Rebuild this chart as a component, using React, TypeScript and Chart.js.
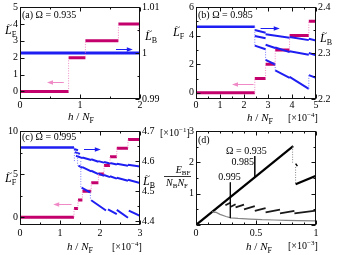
import { useEffect, useRef } from 'react';
import { Chart, registerables } from 'chart.js';

Chart.register(...registerables);

const W = 337;
const H = 255;
const SERIF = '"Liberation Serif", "Times New Roman", Times, serif';
const MAG = '#c4006c';
const PINK = '#f08ac6';
const BLUE = '#1e1ef2';
const LBLUE = '#7a7aff';
const GRAY = '#858585';

// ---------- (a) Omega = 0.935 ----------
const aXTicks = [0, 1, 2];
const aXMinor = [0.5, 1.5];
const aYLTicks = [0, 1, 2, 3, 4, 5];
const aYRTicks = [0.99, 1, 1.01];
const aYRMinor = [0.995, 1.005];
const aLFLevels = [0, 2, 3, 4];
const aLFEdges = [0, 0.81, 1.09, 1.64, 2.0];
const aJumpH = [0.81, 1.09, 1.64, 1.98];
const aJumpFrom = [0, 2, 3, 3.55];
const aJumpTo = [2, 3, 4, 4];
const aLBh = [0, 2];
const aLB = [1, 1];
const aArrowF = [0.73, 0.45, 0.56];
const aArrowB = [1.6, 1.88, 1.0008];

// ---------- (b) Omega = 0.985 ----------
const bXTicks = [0, 1, 2, 3, 4, 5];
const bXMinor = [0.5, 1.5, 2.5, 3.5, 4.5];
const bYLTicks = [0, 2, 4, 6];
const bYLMinor = [1, 3, 5];
const bYRTicks = [2.2, 2.3, 2.4];
const bYRMinor = [2.25, 2.35];
const bLFLevels = [0, 1, 2, 3, 4, 5];
const bLFEdges = [0, 2.45, 2.9, 3.3, 3.9, 4.7, 5.0];
const bJumpH = [2.45, 2.9, 3.3, 3.9, 4.7];
const bJumpFrom = [0, 1, 2, 3, 4];
const bJumpTo = [1, 2, 3, 4, 5];
const bLBConstH = [0, 2.45];
const bLBConst = [2.357, 2.357];
const bLBSegs = [
  [2.45, 2.35, 2.9, 2.344],
  [2.45, 2.337, 2.9, 2.332],
  [2.9, 2.341, 3.9, 2.333],
  [3.9, 2.335, 4.7, 2.328],
  [4.7, 2.331, 5.0, 2.327],
  [2.45, 2.316, 2.9, 2.308],
  [2.9, 2.318, 3.3, 2.311],
  [3.3, 2.312, 3.9, 2.302],
  [3.9, 2.304, 4.7, 2.296],
  [4.7, 2.3, 5.0, 2.295],
  [2.9, 2.285, 3.3, 2.275],
  [3.3, 2.262, 3.9, 2.246],
  [3.9, 2.248, 4.7, 2.222],
  [4.7, 2.252, 5.0, 2.246],
];
const bLBJumpH = [2.45, 2.9, 3.3, 4.7];
const bLBJumpFrom = [2.357, 2.308, 2.275, 2.222];
const bLBJumpTo = [2.316, 2.285, 2.262, 2.252];
const bArrowF = [2.4, 1.5, 0.6];
const bArrowB = [2.69, 3.49, 2.354];

// ---------- (c) Omega = 0.995 ----------
const cXTicks = [0, 1, 2, 3];
const cXMinor = [0.5, 1.5, 2.5];
const cYLTicks = [0, 5, 10];
const cYLMinor = [2.5, 7.5];
const cYRTicks = [4.4, 4.5, 4.6, 4.7];
const cYRMinor = [4.45, 4.55, 4.65];
const cLFLevels = [0, 1, 2, 3, 4, 5, 6, 7, 8, 9];
const cLFEdges = [0, 1.35, 1.45, 1.56, 1.78, 1.96, 2.1, 2.25, 2.42, 2.7, 3.0];
const cJumpH = [1.35, 1.45, 1.56, 1.78, 1.96, 2.1, 2.25, 2.42, 2.7];
const cJumpFrom = [0, 1, 2, 3, 4, 5, 6, 7, 8];
const cJumpTo = [1, 2, 3, 4, 5, 6, 7, 8, 9];
const cLBConstH = [0, 1.35];
const cLBConst = [4.645, 4.645];
const cLBSegs = [
  [1.35, 4.64, 1.45, 4.636],
  [1.37, 4.63, 1.5, 4.624],
  [1.4, 4.618, 1.56, 4.61],
  [1.56, 4.612, 1.78, 4.604],
  [1.78, 4.606, 1.96, 4.598],
  [1.96, 4.6, 2.1, 4.595],
  [2.1, 4.597, 2.25, 4.592],
  [2.25, 4.594, 2.42, 4.589],
  [2.42, 4.591, 2.7, 4.585],
  [2.7, 4.588, 3.0, 4.582],
  [1.46, 4.585, 1.56, 4.578],
  [1.56, 4.58, 1.78, 4.566],
  [1.78, 4.568, 1.96, 4.557],
  [1.96, 4.559, 2.1, 4.551],
  [2.1, 4.554, 2.25, 4.547],
  [2.25, 4.55, 2.42, 4.542],
  [2.42, 4.545, 2.7, 4.535],
  [2.7, 4.538, 3.0, 4.527],
  [1.54, 4.512, 1.75, 4.496],
  [1.78, 4.47, 2.15, 4.436],
  [2.2, 4.44, 2.42, 4.424],
  [2.42, 4.438, 2.7, 4.412],
  [2.72, 4.436, 3.0, 4.418],
];
const cLBJumpH = [1.36, 1.44, 1.52, 1.76];
const cLBJumpFrom = [4.645, 4.628, 4.6, 4.496];
const cLBJumpTo = [4.6, 4.585, 4.512, 4.47];
const cArrowF = [1.29, 0.83, 1.55];
const cArrowB = [1.6, 2.02, 4.64];

// ---------- (d) E_BF ----------
const dXTicks = [0, 0.5, 1];
const dXMinor = [0.1, 0.2, 0.3, 0.4, 0.6, 0.7, 0.8, 0.9];
const dYTicks = [1, 2, 3];
const dYMarks = [0, 1, 2, 3];
const dYMinor = [0.5, 1.5, 2.5];
const d935H = [0, 0.81];
const d935 = [0, 2.52];
const d935bH = [0.83, 1.0];
const d935b = [1.3, 1.57];
const d935Drop = [
  [0.805, 2.5, 0.805, 1.95],
  [0.83, 1.85, 0.83, 1.32],
];
const d935Kink = [[0.83, 1.96, 0.845, 1.88]];
const d985Segs = [
  [0.245, 0.63, 0.29, 0.72],
  [0.29, 0.58, 0.33, 0.66],
  [0.33, 0.56, 0.4, 0.65],
  [0.4, 0.5, 0.49, 0.6],
  [0.49, 0.45, 0.58, 0.54],
  [0.58, 0.4, 0.7, 0.49],
  [0.7, 0.37, 0.82, 0.45],
  [0.82, 0.37, 1.0, 0.46],
];
const d995H = [0.135, 0.15, 0.165, 0.2, 0.25, 0.29, 0.35, 0.45, 0.55, 0.65, 0.75, 0.85, 1.0];
const d995 = [0.43, 0.4, 0.41, 0.34, 0.27, 0.23, 0.21, 0.19, 0.17, 0.16, 0.15, 0.14, 0.13];
const dLeaders = [
  [0.49, 2.2, 0.49, 1.53],
  [0.286, 1.36, 0.286, 0.22],
];
const dLabelText = ['Ω = 0.935', '0.985', '0.995'];
const dLabelH = [0.42, 0.39, 0.28];
const dLabelV = [2.28, 1.93, 1.44];

// ---------- helpers ----------
type Seg = number[];
type Pt = { x: number; y: number | null };

function segPoints(segs: Seg[]): Pt[] {
  const out: Pt[] = [];
  segs.forEach(([x1, y1, x2, y2]) => {
    out.push({ x: x1, y: y1 }, { x: x2, y: y2 }, { x: x2, y: null });
  });
  return out;
}
function steps(levels: number[], edges: number[]): Seg[] {
  return levels.map((v, i) => [edges[i], v, edges[i + 1], v]);
}
function jumps(hs: number[], from: number[], to: number[]): Seg[] {
  return hs.map((h, i) => [h, from[i], h, to[i]]);
}
function pairs(xs: number[], ys: number[]): Pt[] {
  return xs.map((x, i) => ({ x, y: ys[i] }));
}
function ds(data: Pt[], color: string, width: number, axis = 'y', dash: number[] = []) {
  return {
    data,
    borderColor: color,
    backgroundColor: color,
    borderWidth: width,
    yAxisID: axis,
    pointRadius: 0,
    pointHoverRadius: 0,
    fill: false,
    tension: 0,
    borderDash: dash,
    spanGaps: false,
  };
}

type Part = [string, number, boolean, number];
function rich(ctx: CanvasRenderingContext2D, parts: Part[], x: number, base: number, align: 'left' | 'center' = 'left') {
  ctx.textBaseline = 'alphabetic';
  ctx.textAlign = 'left';
  const widths = parts.map(([s, size, it]) => {
    ctx.font = `${it ? 'italic ' : ''}${size}px ${SERIF}`;
    return ctx.measureText(s).width;
  });
  const total = widths.reduce((a, b) => a + b, 0);
  let cx = align === 'center' ? x - total / 2 : x;
  parts.forEach(([s, size, it, dy], i) => {
    ctx.font = `${it ? 'italic ' : ''}${size}px ${SERIF}`;
    ctx.fillText(s, cx, base + dy);
    cx += widths[i];
  });
  return total;
}
function Ltilde(ctx: CanvasRenderingContext2D, x: number, base: number, sub: string) {
  rich(ctx, [['L', 12, true, 0], [sub, 8, false, 2.5]], x, base);
  rich(ctx, [['~', 9, false, 0]], x + 2.2, base - 6.5);
}
function hOverN(ctx: CanvasRenderingContext2D, cx: number, base: number) {
  rich(ctx, [['h', 11, true, 0], [' / ', 11, false, 0], ['N', 11, true, 0], ['F', 8, false, 2.5]], cx, base, 'center');
}
function mult(ctx: CanvasRenderingContext2D, x: number, base: number, exp: string) {
  rich(ctx, [['[×10', 10, false, 0], [exp, 7, false, -4.5], [']', 10, false, 0]], x, base);
}
function arrowH(ctx: CanvasRenderingContext2D, sx: any, sy: any, spec: number[], color: string) {
  const x1 = sx.getPixelForValue(spec[0]);
  const x2 = sx.getPixelForValue(spec[1]);
  const y = Math.round(sy.getPixelForValue(spec[2])) + 0.5;
  const dir = Math.sign(x2 - x1);
  ctx.strokeStyle = color;
  ctx.fillStyle = color;
  ctx.lineWidth = 1;
  ctx.beginPath();
  ctx.moveTo(x1, y);
  ctx.lineTo(x2 - dir * 3, y);
  ctx.stroke();
  ctx.beginPath();
  ctx.moveTo(x2, y);
  ctx.lineTo(x2 - dir * 6, y - 2.3);
  ctx.lineTo(x2 - dir * 6, y + 2.3);
  ctx.closePath();
  ctx.fill();
}

type Ax = { min: number; max: number; ticks: number[]; major?: number[]; minor?: number[] };
type Spec = {
  area: [number, number, number, number];
  x: Ax;
  yl: Ax;
  yr?: Ax;
  xPad: number;
  datasets: any[];
  draw: (ctx: CanvasRenderingContext2D, sc: any) => void;
};

function decorate(chart: any, p: Spec) {
  const ctx: CanvasRenderingContext2D = chart.ctx;
  const a = chart.chartArea;
  const sx = chart.scales.x;
  const sy = chart.scales.y;
  const sy2 = chart.scales.y2;
  ctx.save();
  const L = Math.round(a.left) + 0.5;
  const R = Math.round(a.right) - 0.5;
  const T = Math.round(a.top) + 0.5;
  const B = Math.round(a.bottom) - 0.5;
  ctx.strokeStyle = '#111';
  ctx.lineWidth = 1;
  ctx.strokeRect(L, T, R - L, B - T);
  ctx.beginPath();
  const xt = (v: number, len: number) => {
    const px = Math.round(sx.getPixelForValue(v)) + 0.5;
    ctx.moveTo(px, B);
    ctx.lineTo(px, B - len);
    ctx.moveTo(px, T);
    ctx.lineTo(px, T + len);
  };
  const ylt = (v: number, len: number, mirror: boolean) => {
    const py = Math.round(sy.getPixelForValue(v)) + 0.5;
    ctx.moveTo(L, py);
    ctx.lineTo(L + len, py);
    if (mirror) {
      ctx.moveTo(R, py);
      ctx.lineTo(R - len, py);
    }
  };
  const yrt = (v: number, len: number) => {
    const py = Math.round(sy2.getPixelForValue(v)) + 0.5;
    ctx.moveTo(R, py);
    ctx.lineTo(R - len, py);
  };
  (p.x.major ?? p.x.ticks).forEach((v) => xt(v, 4));
  (p.x.minor ?? []).forEach((v) => xt(v, 2));
  (p.yl.major ?? p.yl.ticks).forEach((v) => ylt(v, 4, !p.yr));
  (p.yl.minor ?? []).forEach((v) => ylt(v, 2, !p.yr));
  if (p.yr) {
    (p.yr.major ?? p.yr.ticks).forEach((v) => yrt(v, 4));
    (p.yr.minor ?? []).forEach((v) => yrt(v, 2));
  }
  ctx.stroke();
  ctx.fillStyle = '#000';
  p.draw(ctx, chart.scales);
  ctx.restore();
}

function makeChart(canvas: HTMLCanvasElement, p: Spec) {
  const [l, t, r, b] = p.area;
  const axis = (ax: Ax, pos: string, fit: (s: any) => void, pad: number) => ({
    type: 'linear',
    position: pos,
    min: ax.min,
    max: ax.max,
    afterBuildTicks: (s: any) => {
      s.ticks = ax.ticks.map((v) => ({ value: v }));
    },
    afterFit: fit,
    ticks: {
      autoSkip: false,
      maxRotation: 0,
      minRotation: 0,
      padding: pad,
      color: '#000',
      font: { family: SERIF, size: 10, lineHeight: 1 },
      callback: (_v: any, i: number) => String(ax.ticks[i]),
    },
    grid: { display: false, drawTicks: false },
    border: { display: false },
  });
  const scales: any = {
    x: axis(p.x, 'bottom', (s) => { s.height = H - b; }, p.xPad),
    y: axis(p.yl, 'left', (s) => { s.width = l; }, 2),
  };
  if (p.yr) scales.y2 = axis(p.yr, 'right', (s) => { s.width = W - r; }, 2);
  return new Chart(canvas, {
    type: 'line',
    data: { datasets: p.datasets },
    options: {
      animation: false,
      responsive: false,
      maintainAspectRatio: false,
      events: [],
      layout: { padding: { left: 0, top: t, right: p.yr ? 0 : W - r, bottom: 0 } },
      plugins: { legend: { display: false }, tooltip: { enabled: false } },
      scales,
    } as any,
    plugins: [{ id: 'decor', afterDraw: (chart: any) => decorate(chart, p) }],
  });
}

const specs: Spec[] = [
  {
    area: [20, 5, 140, 99],
    x: { min: 0, max: 2, ticks: aXTicks, minor: aXMinor },
    yl: { min: -0.45, max: 5, ticks: aYLTicks },
    yr: { min: 0.99, max: 1.01, ticks: aYRTicks, minor: aYRMinor },
    xPad: 1,
    datasets: [
      ds(segPoints(jumps(aJumpH, aJumpFrom, aJumpTo)), PINK, 1, 'y', [1, 1.5]),
      ds(pairs(aLBh, aLB), BLUE, 3, 'y2'),
      ds(segPoints(steps(aLFLevels, aLFEdges)), MAG, 3),
    ],
    draw: (ctx, sc) => {
      arrowH(ctx, sc.x, sc.y, aArrowF, PINK);
      arrowH(ctx, sc.x, sc.y2, aArrowB, BLUE);
      ctx.fillStyle = '#000';
      rich(ctx, [['(a) Ω = 0.935', 10, false, 0]], 22, 18);
      Ltilde(ctx, 5, 34, 'F');
      Ltilde(ctx, 145, 40, 'B');
      hOverN(ctx, 81, 120);
    },
  },
  {
    area: [196, 5, 316, 99],
    x: { min: 0, max: 5, ticks: bXTicks, minor: bXMinor },
    yl: { min: -0.43, max: 6, ticks: bYLTicks, minor: bYLMinor },
    yr: { min: 2.2, max: 2.4, ticks: bYRTicks, minor: bYRMinor },
    xPad: 1,
    datasets: [
      ds(segPoints(jumps(bJumpH, bJumpFrom, bJumpTo)), PINK, 1, 'y', [1, 1.5]),
      ds(segPoints(jumps(bLBJumpH, bLBJumpFrom, bLBJumpTo)), LBLUE, 1, 'y2', [1, 1.5]),
      ds(pairs(bLBConstH, bLBConst), BLUE, 2.5, 'y2'),
      ds(segPoints(bLBSegs), BLUE, 2, 'y2'),
      ds(segPoints(steps(bLFLevels, bLFEdges)), MAG, 3),
    ],
    draw: (ctx, sc) => {
      arrowH(ctx, sc.x, sc.y, bArrowF, PINK);
      arrowH(ctx, sc.x, sc.y2, bArrowB, BLUE);
      ctx.fillStyle = '#000';
      rich(ctx, [['(b) Ω = 0.985', 10, false, 0]], 198, 18);
      Ltilde(ctx, 173, 36, 'F');
      Ltilde(ctx, 320, 42, 'B');
      hOverN(ctx, 260, 121);
      mult(ctx, 288, 121, '−4');
    },
  },
  {
    area: [20, 131, 140, 225],
    x: { min: 0, max: 3, ticks: cXTicks, minor: cXMinor },
    yl: { min: -0.9, max: 10, ticks: cYLTicks, minor: cYLMinor },
    yr: { min: 4.388, max: 4.7, ticks: cYRTicks, minor: cYRMinor },
    xPad: 3.3,
    datasets: [
      ds(segPoints(jumps(cJumpH, cJumpFrom, cJumpTo)), PINK, 1, 'y', [1, 1.5]),
      ds(segPoints(jumps(cLBJumpH, cLBJumpFrom, cLBJumpTo)), LBLUE, 1, 'y2', [1, 1.5]),
      ds(pairs(cLBConstH, cLBConst), BLUE, 2.5, 'y2'),
      ds(segPoints(cLBSegs), BLUE, 2, 'y2'),
      ds(segPoints(steps(cLFLevels, cLFEdges)), MAG, 3),
    ],
    draw: (ctx, sc) => {
      arrowH(ctx, sc.x, sc.y, cArrowF, PINK);
      arrowH(ctx, sc.x, sc.y2, cArrowB, BLUE);
      ctx.fillStyle = '#000';
      rich(ctx, [['(c) Ω = 0.995', 10, false, 0]], 22, 140);
      Ltilde(ctx, 5, 182, 'F');
      Ltilde(ctx, 143, 185, 'B');
      hOverN(ctx, 80, 250);
      mult(ctx, 112, 250, '−4');
    },
  },
  {
    area: [196, 131, 316, 225],
    x: { min: 0, max: 1, ticks: dXTicks, minor: dXMinor },
    yl: { min: 0, max: 3, ticks: dYTicks, major: dYMarks, minor: dYMinor },
    xPad: 3.3,
    datasets: [
      ds(segPoints(d935Drop), GRAY, 1, 'y', [1, 1.5]),
      ds(segPoints(dLeaders), '#000', 0.8),
      ds(pairs(d995H, d995), GRAY, 1.2),
      ds(segPoints(d985Segs), '#1a1a1a', 1.8),
      ds(segPoints(d935Kink), '#000', 1.5),
      ds(pairs(d935H, d935), '#000', 2.2),
      ds(pairs(d935bH, d935b), '#000', 2.2),
    ],
    draw: (ctx, sc) => {
      ctx.fillStyle = '#000';
      dLabelText.forEach((s, i) => {
        const px = sc.x.getPixelForValue(dLabelH[i]);
        const py = sc.y.getPixelForValue(dLabelV[i]);
        rich(ctx, [[s, 10, false, 0]], px, py, 'center');
      });
      rich(ctx, [['(d)', 10, false, 0]], 198, 143);
      mult(ctx, 160, 136, '−1');
      rich(ctx, [['E', 10, true, 0], ['BF', 7, false, 2]], 183, 173, 'center');
      ctx.strokeStyle = '#000';
      ctx.lineWidth = 0.8;
      ctx.beginPath();
      ctx.moveTo(164, 176.5);
      ctx.lineTo(191, 176.5);
      ctx.stroke();
      rich(ctx, [['N', 10, true, 0], ['B', 7, false, 2], ['N', 10, true, 0], ['F', 7, false, 2]], 177, 186, 'center');
      hOverN(ctx, 259, 250);
      mult(ctx, 288, 249, '−3');
    },
  },
];

export default function App() {
  const refs = useRef<(HTMLCanvasElement | null)[]>([]);
  useEffect(() => {
    const charts = specs.map((s, i) => makeChart(refs.current[i] as HTMLCanvasElement, s));
    return () => charts.forEach((c) => c.destroy());
  }, []);
  return (
    <div style={{ position: 'fixed', left: 0, top: 0, width: W, height: H, background: '#fff' }}>
      {specs.map((_, i) => (
        <canvas
          key={i}
          ref={(el) => { refs.current[i] = el; }}
          width={W}
          height={H}
          style={{ position: 'absolute', left: 0, top: 0 }}
        />
      ))}
    </div>
  );
}
